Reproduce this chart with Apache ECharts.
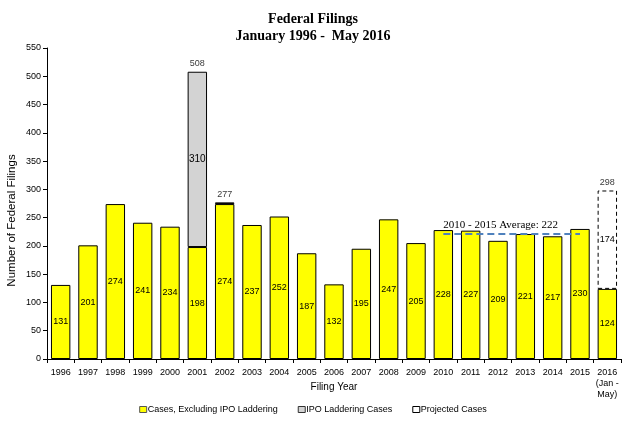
<!DOCTYPE html>
<html><head><meta charset="utf-8">
<script src="https://cdn.jsdelivr.net/npm/echarts@6/dist/echarts.min.js"></script>
<style>html,body{margin:0;padding:0;background:#fff}#c{width:626px;height:426px}</style>
</head><body><div id="c"></div>
<script>
const categories = ['1996','1997','1998','1999','2000','2001','2002','2003','2004','2005','2006','2007','2008','2009','2010','2011','2012','2013','2014','2015','2016\n(Jan -\nMay)'];
const baseCases = [131,201,274,241,234,198,274,237,252,187,132,195,247,205,228,227,209,221,217,230,124];
const ipoCases = [0,0,0,0,0,310,3,0,0,0,0,0,0,0,0,0,0,0,0,0,0];
const projectedCases = [0,0,0,0,0,0,0,0,0,0,0,0,0,0,0,0,0,0,0,0,174];
const averageValue = 222;
const yTicks = [0,50,100,150,200,250,300,350,400,450,500,550];

const totals = baseCases.map((v,i)=>v+ipoCases[i]+projectedCases[i]);
const topLabels = totals.map((t,i)=> (ipoCases[i]>0||projectedCases[i]>0) ? t : '-');
const nz = a => a.map(v => v>0 ? v : '-');

const chart = echarts.init(document.getElementById('c'));
const font = 'Arial, "Liberation Sans", sans-serif';
chart.setOption({
  animation:false,
  title:{text:'Federal Filings\nJanuary 1996 -  May 2016',left:'center',top:6,
    textStyle:{fontFamily:'"Liberation Serif", "Times New Roman", serif',fontWeight:'bold',fontSize:14,lineHeight:17,color:'#000'}},
  grid:{left:47,right:5,top:48,bottom:67,outerBoundsMode:'none',containLabel:false},
  legend:{bottom:7,left:'center',itemWidth:7,itemHeight:6,itemGap:20,icon:'rect',
    textStyle:{fontFamily:font,fontSize:9,color:'#000',padding:[0,0,0,-4]},
    data:[{name:'Cases, Excluding IPO Laddering',itemStyle:{borderColor:'#555',borderWidth:1}},
          {name:'IPO Laddering Cases',itemStyle:{borderColor:'#333',borderWidth:1}},
          {name:'Projected Cases',itemStyle:{borderColor:'#000',borderWidth:1}}]},
  xAxis:{type:'category',data:categories,name:'Filing Year',nameLocation:'middle',nameGap:23,nameMoveOverlap:false,
    nameTextStyle:{fontFamily:font,fontSize:10,color:'#000',verticalAlign:'top'},
    axisLine:{lineStyle:{color:'#000'}},axisTick:{show:true,length:4,lineStyle:{color:'#000'}},
    axisLabel:{fontFamily:font,fontSize:9,color:'#000',interval:0,margin:8,lineHeight:11}},
  yAxis:{type:'value',min:0,max:550,interval:50,name:'Number of Federal Filings',nameLocation:'middle',nameGap:29,nameMoveOverlap:false,
    nameTextStyle:{fontFamily:font,fontSize:11.5,color:'#000',padding:[0,34,0,0]},
    axisLine:{show:true,lineStyle:{color:'#000'}},axisTick:{show:true,length:4,lineStyle:{color:'#000'}},
    splitLine:{show:false},
    axisLabel:{fontFamily:font,fontSize:9,color:'#000',margin:6,formatter:v=>yTicks.includes(v)?String(v):''}},
  series:[
    {name:'Cases, Excluding IPO Laddering',type:'bar',stack:'s',data:nz(baseCases),barCategoryGap:'29%',
      itemStyle:{color:'#FFFF00',borderColor:'#000',borderWidth:1},
      label:{show:true,position:'inside',fontFamily:font,fontSize:9,color:'#000'},
      markLine:{symbol:'none',silent:true,
        lineStyle:{color:'#4F81BD',type:[7,4],width:2},
        label:{show:true,position:'insideStartTop',formatter:'2010 - 2015 Average: '+averageValue,distance:[0,3],
          fontFamily:'"Liberation Serif", "Times New Roman", serif',fontSize:11,color:'#000'},
        data:[[{coord:[13.68,averageValue]},{coord:[19.3,averageValue]}]]}},
    {name:'IPO Laddering Cases',type:'bar',stack:'s',data:nz(ipoCases),
      itemStyle:{color:'#D3D3D3',borderColor:'#000',borderWidth:1},
      label:{show:true,position:'inside',fontFamily:font,fontSize:10,color:'#000',formatter:p=>p.value>=50?p.value:''}},
    {name:'Projected Cases',type:'bar',stack:'s',data:nz(projectedCases),
      itemStyle:{color:'#fff',borderColor:'#000',borderWidth:1,borderType:[4,3]},
      label:{show:true,position:'inside',fontFamily:font,fontSize:9,color:'#000',formatter:p=>p.value>0?p.value:''}},
    {name:'totals',type:'scatter',data:topLabels,symbolSize:1,itemStyle:{color:'rgba(0,0,0,0)'},
      label:{show:true,position:'top',distance:3,fontFamily:font,fontSize:9,color:'#000',formatter:p=>p.value}}
  ]
});
</script></body></html>
